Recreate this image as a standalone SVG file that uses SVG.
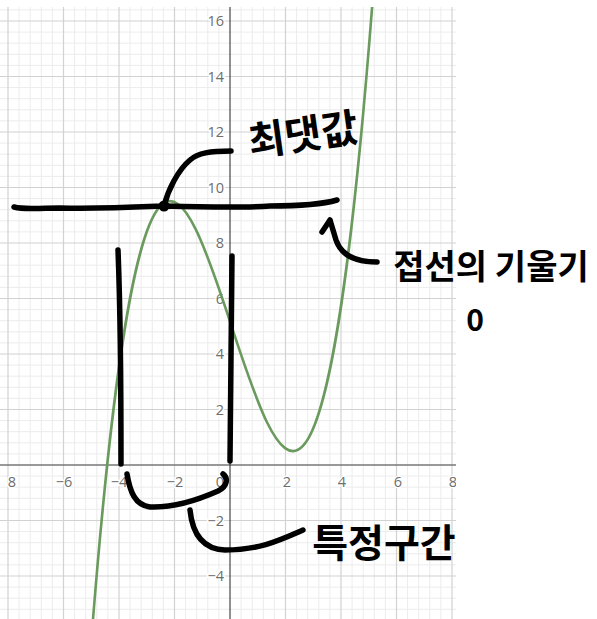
<svg xmlns="http://www.w3.org/2000/svg" width="597" height="619" viewBox="0 0 597 619">
<defs>
<clipPath id="plot"><rect x="0" y="7" width="456" height="612"/></clipPath>
</defs>
<style>
.minor{stroke:#ececec;stroke-width:1;fill:none}
.major{stroke:#d2d2d2;stroke-width:1.2;fill:none}
.tick{font-family:"Open Sans","Liberation Sans",sans-serif;font-size:14.5px;fill:#6e6e6e;stroke:#fff;stroke-width:3;paint-order:stroke}
.pen{stroke:#000;stroke-width:5.5;fill:none;stroke-linecap:round;stroke-linejoin:round}
.hand{font-family:"Noto Sans CJK KR","Noto Sans CJK SC",sans-serif;font-weight:700;fill:#000}
</style>
<rect width="597" height="619" fill="#fff"/>
<g id="graph" clip-path="url(#plot)">
<path class="minor" d="M19.1,7V619M30.2,7V619M41.3,7V619M52.4,7V619M74.6,7V619M85.7,7V619M96.8,7V619M107.9,7V619M130.1,7V619M141.2,7V619M152.3,7V619M163.4,7V619M185.6,7V619M196.7,7V619M207.8,7V619M218.9,7V619M241.1,7V619M252.2,7V619M263.3,7V619M274.4,7V619M296.6,7V619M307.7,7V619M318.8,7V619M329.9,7V619M352.1,7V619M363.2,7V619M374.3,7V619M385.4,7V619M407.6,7V619M418.7,7V619M429.8,7V619M440.9,7V619"/>
<path class="minor" d="M0,609.3H456M0,598.2H456M0,587.1H456M0,564.9H456M0,553.8H456M0,542.7H456M0,531.6H456M0,509.4H456M0,498.3H456M0,487.2H456M0,476.1H456M0,453.9H456M0,442.8H456M0,431.7H456M0,420.6H456M0,398.4H456M0,387.3H456M0,376.2H456M0,365.1H456M0,342.9H456M0,331.8H456M0,320.7H456M0,309.6H456M0,287.4H456M0,276.3H456M0,265.2H456M0,254.1H456M0,231.9H456M0,220.8H456M0,209.7H456M0,198.6H456M0,176.4H456M0,165.3H456M0,154.2H456M0,143.1H456M0,120.9H456M0,109.8H456M0,98.7H456M0,87.6H456M0,65.4H456M0,54.3H456M0,43.2H456M0,32.1H456M0,9.9H456"/>
<path class="major" d="M8,7V619M63.5,7V619M119,7V619M174.5,7V619M285.5,7V619M341,7V619M396.5,7V619M452,7V619"/>
<path class="major" d="M0,576H456M0,520.5H456M0,409.5H456M0,354H456M0,298.5H456M0,243H456M0,187.5H456M0,132H456M0,76.5H456M0,21H456"/>
<g id="ticks">
<text class="tick" x="12" y="487" text-anchor="middle">8</text>
<text class="tick" x="64" y="487" text-anchor="middle">−6</text>
<text class="tick" x="119" y="487" text-anchor="middle">−4</text>
<text class="tick" x="175" y="487" text-anchor="middle">−2</text>
<text class="tick" x="220" y="487" text-anchor="middle">0</text>
<text class="tick" x="287" y="487" text-anchor="middle">2</text>
<text class="tick" x="342" y="487" text-anchor="middle">4</text>
<text class="tick" x="398" y="487" text-anchor="middle">6</text>
<text class="tick" x="453" y="487" text-anchor="middle">8</text>
<text class="tick" x="224" y="26" text-anchor="end">16</text>
<text class="tick" x="224" y="81.5" text-anchor="end">14</text>
<text class="tick" x="224" y="137" text-anchor="end">12</text>
<text class="tick" x="224" y="192.5" text-anchor="end">10</text>
<text class="tick" x="224" y="248" text-anchor="end">8</text>
<text class="tick" x="224" y="303.5" text-anchor="end">6</text>
<text class="tick" x="224" y="359" text-anchor="end">4</text>
<text class="tick" x="224" y="414.5" text-anchor="end">2</text>
<text class="tick" x="224" y="525.5" text-anchor="end">−2</text>
<text class="tick" x="224" y="581" text-anchor="end">−4</text>
</g>
<path d="M0,465H456" stroke="#777" stroke-width="1.6"/>
<path d="M230,7V619" stroke="#222" stroke-width="1"/>
<path id="curve" d="M88.475,677.73C183.75,-606.1 279.03,1255.9 374.3,-21.7" fill="none" stroke="#6b9a5e" stroke-width="2.6"/>
</g>
<g id="connectors">
<path class="pen" d="M14,207C25,210 35,208 60,208C100,209 140,207 165,206C200,207 240,208 270,206C300,206 320,205 337,200"/>
<circle cx="164" cy="206" r="5.5" fill="#000"/>
<path class="pen" d="M164,206C168,190 178,170 190,160C198,153 210,151 231,151"/>
<path class="pen" d="M118,250C120,300 121,400 121,464"/>
<path class="pen" d="M232,256C231,320 231,400 230,461"/>
<path class="pen" d="M127,474C130,492 135,505 150,507C175,508 200,499 218,491C228,486 228,478 223,474"/>
<path class="pen" d="M190,510C192,530 200,549 225,550C260,550 280,540 303,530"/>
<path class="pen" d="M377,262C355,262 341,255 336,240L330,220M330,220L322,232"/>
</g>
<g id="label-max"><text class="hand" x="303" y="149" font-size="40" text-anchor="middle" transform="rotate(-8 303 134)">최댓값</text></g>
<g id="label-slope"><text class="hand" x="491" y="279" font-size="34" text-anchor="middle">접선의 기울기</text></g>
<g id="label-zero"><text class="hand" x="475" y="331" font-size="30" text-anchor="middle">0</text></g>
<g id="label-interval"><text class="hand" x="384" y="557" font-size="39" text-anchor="middle">특정구간</text></g>
</svg>
